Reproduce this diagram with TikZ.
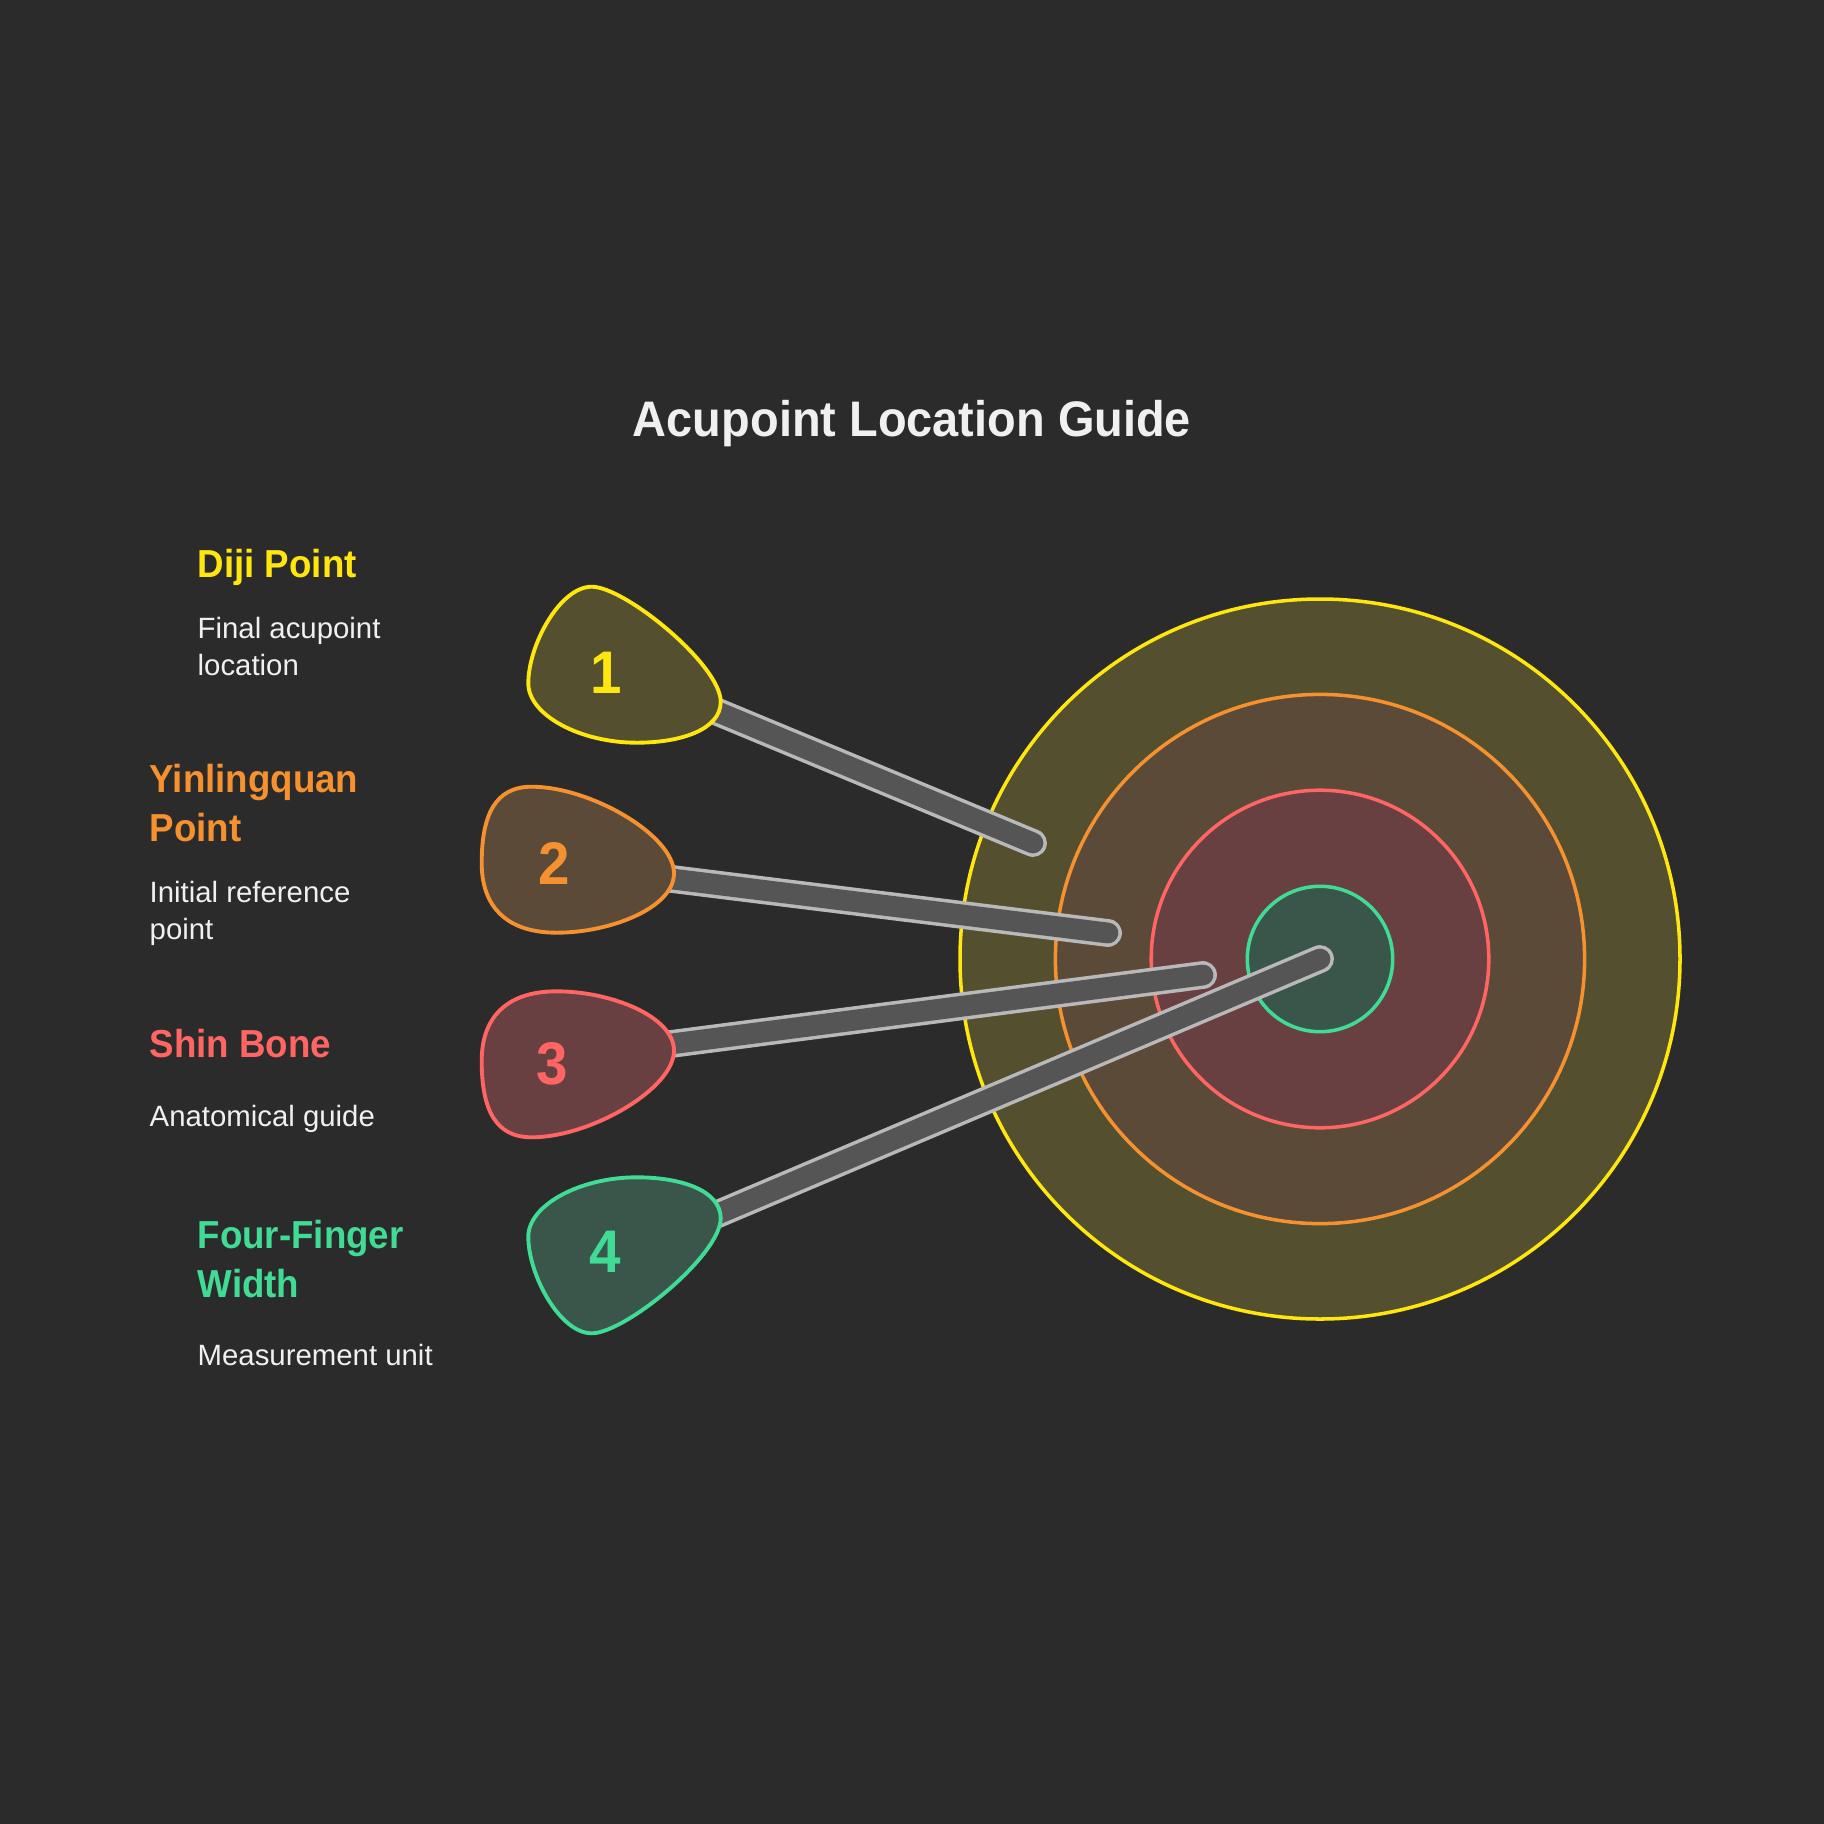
\documentclass[tikz,border=0pt]{standalone}
\usepackage{fontspec}
\setmainfont{Liberation Sans}[BoldFeatures={FakeStretch=0.94}]
\usetikzlibrary{positioning}
\definecolor{canvas}{RGB}{43,43,43}
\definecolor{lighttext}{RGB}{240,240,240}
\definecolor{myyellow}{RGB}{255,230,15}
\definecolor{myyellowfill}{RGB}{84,79,47}
\definecolor{myorange}{RGB}{245,146,47}
\definecolor{myorangefill}{RGB}{92,74,57}
\definecolor{myred}{RGB}{255,102,99}
\definecolor{myredfill}{RGB}{105,64,65}
\definecolor{mygreen}{RGB}{64,220,150}
\definecolor{mygreenfill}{RGB}{58,85,73}
\definecolor{stickfill}{RGB}{85,85,85}
\definecolor{stickedge}{RGB}{185,185,185}
% outline of the upper (1) and middle (2) pick; 3 and 4 are mirrored
\newcommand{\pickouter}{(591.7,586.7) .. controls (625,586.7) and (720.7,665) .. (720.7,701.7)
    .. controls (720.7,730) and (680,742.7) .. (636.7,742.7)
    .. controls (580,742.7) and (528.3,715) .. (528.3,683.3)
    .. controls (528.3,645) and (560,586.7) .. cycle}
\newcommand{\pickinner}{(531.7,786.7) .. controls (590,786.7) and (674,835) .. (674,873.3)
    .. controls (674,908) and (610,932.7) .. (556.7,932.7)
    .. controls (505,932.7) and (481.7,905) .. (481.7,863.3)
    .. controls (481.7,815) and (495,786.7) .. cycle}
\tikzset{
    ring/.style={line width=1pt},
    stick/.style={draw=stickedge, line width=1pt, double=stickfill, double distance=5.9pt, line cap=round},
    pickshape/.style={line width=1.1pt},
    digit/.style={anchor=center, inner sep=0pt, font=\fontsize{17.1pt}{20pt}\selectfont\bfseries},
    heading/.style={anchor=base west, align=left, inner sep=0pt, font=\fontsize{11.1pt}{13.66pt}\selectfont\bfseries},
    note/.style={anchor=base west, align=left, inner sep=0pt, text=lighttext, font=\fontsize{8.35pt}{10.24pt}\selectfont}
}
\begin{document}
\begin{tikzpicture}[x=0.01cm, y=-0.01cm]
  \fill[canvas] (0,0) rectangle (1824,1824);
  \node[anchor=base, inner sep=0pt, text=lighttext, font=\fontsize{14.2pt}{17pt}\selectfont\bfseries] (title) at (912,436) {Acupoint Location Guide};

  % target
  \coordinate (target) at (1320,959);
  \foreach \r/\c/\f in {360/myyellow/myyellowfill, 264.6/myorange/myorangefill, 168.8/myred/myredfill, 72.7/mygreen/mygreenfill}
    \draw[ring, draw=\c, fill=\f] (target) circle[radius=\r];

  % sticks
  \coordinate (base1) at (660,688);
  \coordinate (base2) at (640,875);
  \coordinate (base3) at (640,1048);
  \coordinate (base4) at (680,1230);
  \coordinate (tip1) at (1033,843);
  \coordinate (tip2) at (1108,933);
  \coordinate (tip3) at (1203,975);
  \coordinate (tip4) at (target);
  \foreach \i in {1,...,4}
    \draw[stick] (base\i) -- (tip\i);

  % picks
  \draw[pickshape, draw=myyellow, fill=myyellowfill] \pickouter;
  \draw[pickshape, draw=myorange, fill=myorangefill] \pickinner;
  \begin{scope}[shift={(0,1924)}, yscale=-1]
    \draw[pickshape, draw=myred, fill=myredfill] \pickinner;
  \end{scope}
  \begin{scope}[shift={(0,1920)}, yscale=-1]
    \draw[pickshape, draw=mygreen, fill=mygreenfill] \pickouter;
  \end{scope}
  \node[digit, text=myyellow] (pick1) at (606,673) {1};
  \node[digit, text=myorange] (pick2) at (554,863) {2};
  \node[digit, text=myred] (pick3) at (552,1064) {3};
  \node[digit, text=mygreen] (pick4) at (605,1252) {4};

  % labels (multi-line nodes sit on their last baseline)
  \node[heading, text=myyellow] (head1) at (197,577) {Diji Point};
  \node[note] (note1) at (197,675) {Final acupoint\\location};
  \node[heading, text=myorange] (head2) at (149,841) {Yinlingquan\\Point};
  \node[note] (note2) at (149,939) {Initial reference\\point};
  \node[heading, text=myred] (head3) at (149,1057) {Shin Bone};
  \node[note] (note3) at (149,1126) {Anatomical guide};
  \node[heading, text=mygreen] (head4) at (197,1297) {Four-Finger\\Width};
  \node[note] (note4) at (197,1365) {Measurement unit};
\end{tikzpicture}
\end{document}
